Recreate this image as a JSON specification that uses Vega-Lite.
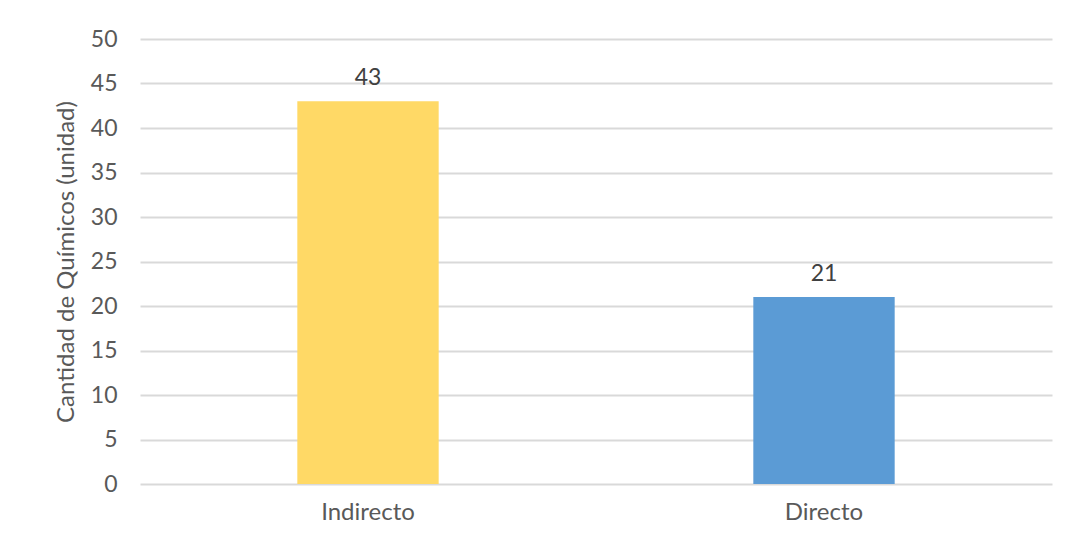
{
  "$schema": "https://vega.github.io/schema/vega-lite/v6.json",
  "autosize": {"type": "none"},
  "padding": {"left": 140, "top": 39, "right": 20, "bottom": 54},
  "width": 912,
  "height": 445,
  "background": "white",
  "data": {"values": [
    {"tipo": "Indirecto", "cantidad": 43},
    {"tipo": "Directo", "cantidad": 21}
  ]},
  "encoding": {
    "x": {"field": "tipo", "type": "nominal", "sort": ["Indirecto", "Directo"],
      "scale": {"paddingInner": 0.69, "paddingOuter": 0.345},
      "axis": {"title": null, "labelAngle": 0, "ticks": false, "domain": false, "labelPadding": 16,
        "labelFontSize": 24, "labelColor": "#595959", "labelFont": "Lato", "grid": false}},
    "y": {"field": "cantidad", "type": "quantitative",
      "scale": {"domain": [0, 50], "nice": false},
      "axis": {"title": "Cantidad de Químicos (unidad)", "values": [0,5,10,15,20,25,30,35,40,45,50],
        "labelOverlap": false,
        "ticks": false, "domain": false, "labelPadding": 23, "labelFontSize": 23, "labelColor": "#595959",
        "labelFont": "Lato", "titleFont": "Lato", "titleFontSize": 24, "titleFontWeight": "normal",
        "titleColor": "#595959", "titlePadding": 12, "gridColor": "#D9D9D9", "gridWidth": 2}}
  },
  "layer": [
    {"mark": {"type": "bar"},
     "encoding": {"color": {"field": "tipo", "type": "nominal",
       "scale": {"domain": ["Indirecto", "Directo"], "range": ["#FFD966", "#5B9BD5"]}, "legend": null}}},
    {"mark": {"type": "text", "baseline": "alphabetic", "dy": -16, "fontSize": 23, "font": "Lato", "color": "#404040"},
     "encoding": {"text": {"field": "cantidad", "type": "quantitative"}}}
  ],
  "config": {"view": {"stroke": null}}
}
